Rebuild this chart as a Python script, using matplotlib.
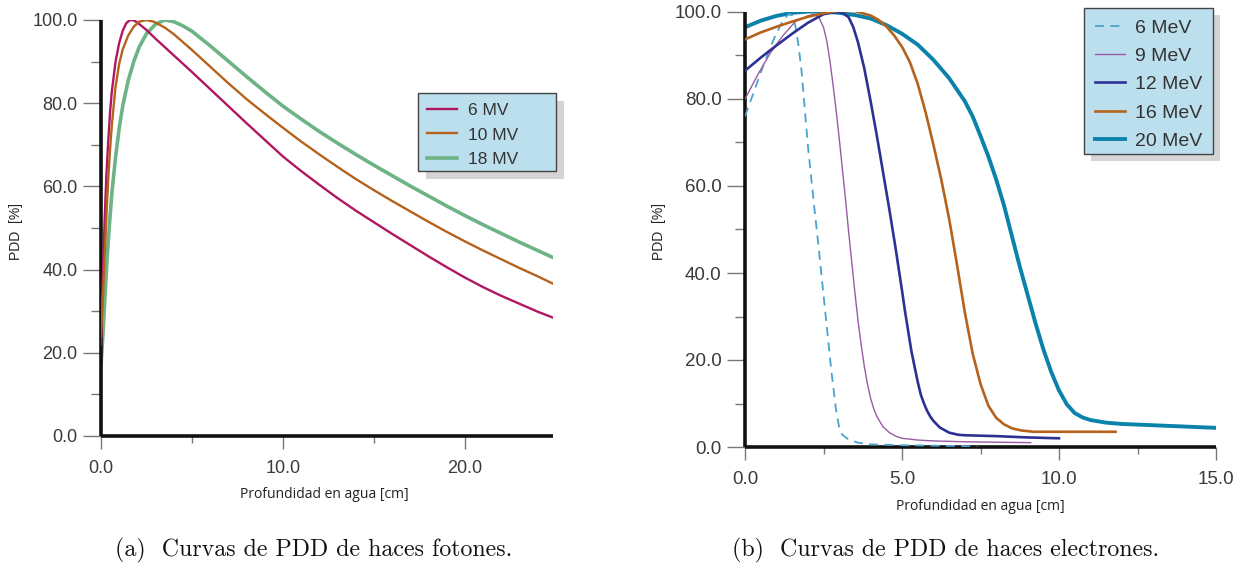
import matplotlib
matplotlib.use("Agg")
import matplotlib.pyplot as plt
from matplotlib.patches import Rectangle
from matplotlib.ticker import MultipleLocator

# ---------------- data: photons (left) ----------------
x_6mv = [0, 0.1, 0.2, 0.3, 0.4, 0.5, 0.6, 0.8, 1.0, 1.2, 1.4, 1.6, 1.8, 2.0, 2.5, 3, 4, 5, 6, 7, 8, 9,
         10, 11, 12, 13, 14, 15, 16, 17, 18, 19, 20, 21, 22, 23, 24, 25]
y_6mv = [22, 38, 52, 63, 71, 78, 83, 90, 94.5, 97.5, 99.3, 100, 99.9, 99.4, 97.6, 95.5, 91.5, 87.5, 83.4, 79.3, 75.2, 71.2,
         67.2, 63.7, 60.4, 57.2, 54.2, 51.4, 48.6, 45.9, 43.2, 40.6, 38.1, 35.8, 33.7, 31.8, 29.9, 28.2]

x_10mv = [0, 0.1, 0.2, 0.3, 0.4, 0.5, 0.6, 0.8, 1.0, 1.2, 1.5, 1.8, 2.1, 2.5, 2.9, 3.5, 4, 5, 6, 7, 8, 9,
          10, 11, 12, 13, 14, 15, 16, 17, 18, 19, 20, 21, 22, 23, 24, 25]
y_10mv = [24, 33, 43, 53, 62, 69, 75, 84, 89.5, 93, 96.3, 98.4, 99.6, 100, 99.6, 98.2, 96.6, 92.8, 88.8, 84.8, 81.0, 77.5,
          74.1, 70.8, 67.7, 64.7, 61.8, 59.1, 56.5, 54.0, 51.5, 49.1, 46.8, 44.6, 42.5, 40.4, 38.4, 36.3]

x_18mv = [0, 0.1, 0.2, 0.3, 0.4, 0.5, 0.6, 0.8, 1.0, 1.2, 1.5, 1.8, 2.1, 2.5, 3, 3.5, 4, 4.5, 5, 6, 7, 8, 9,
          10, 11, 12, 13, 14, 15, 16, 17, 18, 19, 20, 21, 22, 23, 24, 25]
y_18mv = [17, 24, 32, 40, 47, 53, 58.5, 67, 74, 79.5, 85.5, 90, 93.5, 96.7, 99, 100, 99.6, 98.6, 97.3, 93.8, 90.1, 86.4, 82.8,
          79.3, 76.2, 73.2, 70.4, 67.7, 65.1, 62.6, 60.1, 57.7, 55.3, 53.0, 50.8, 48.7, 46.6, 44.6, 42.6]

# ---------------- data: electrons (right) ----------------
x_6mev = [0, 0.3, 0.6, 0.9, 1.2, 1.4, 1.5, 1.6, 1.7, 1.8, 1.9, 2.0, 2.1, 2.2, 2.3, 2.45, 2.6, 2.75, 2.9, 3.0, 3.1,
          3.3, 3.6, 4, 5, 6, 7, 7.4]
y_6mev = [76, 82, 88, 93.5, 98, 99.6, 99.2, 97, 92.5, 86.5, 78, 69.5, 62.5, 55.5, 49, 38.5, 28, 17.5, 8.5, 4.5, 2.8,
          1.7, 1.0, 0.6, 0.4, 0.3, 0.2, 0.0]

x_9mev = [0, 0.4, 0.8, 1.2, 1.6, 2.0, 2.2, 2.35, 2.5, 2.6, 2.7, 2.8, 2.9, 3.0, 3.1, 3.2, 3.3, 3.4, 3.5, 3.6, 3.7,
          3.8, 3.9, 4.0, 4.1, 4.2, 4.4, 4.6, 4.8, 5.0, 5.5, 6, 7, 8, 9.1]
y_9mev = [80, 85.5, 90.5, 94.5, 97.8, 99.1, 99.5, 98.8, 96.5, 93.5, 89, 83.5, 77.5, 71, 64, 57, 49.5, 42.5, 35.5, 29, 23.5,
          18.5, 14.5, 11.2, 8.8, 7, 4.6, 3.3, 2.5, 2.0, 1.6, 1.4, 1.2, 1.1, 1.0]

x_12mev = [0, 0.5, 1.0, 1.5, 2.0, 2.5, 2.9, 3.1, 3.3, 3.45, 3.6, 3.8, 4.0, 4.2, 4.4, 4.6, 4.8, 5.0, 5.1, 5.2, 5.3,
           5.4, 5.5, 5.6, 5.7, 5.8, 5.9, 6.0, 6.2, 6.5, 6.8, 7, 8, 9, 10]
y_12mev = [86.5, 89.5, 92.3, 95, 97.5, 99.5, 100, 99.8, 98.8, 96.5, 93, 87, 79.5, 71.5, 63, 54.5, 45.5, 36, 31, 26.5, 22,
           18.5, 15, 12, 10, 8.3, 7, 6, 4.5, 3.3, 2.8, 2.7, 2.5, 2.2, 2.0]

x_16mev = [0, 0.5, 1.0, 1.5, 2.0, 2.5, 3.0, 3.5, 4.0, 4.25, 4.5, 4.75, 5.0, 5.25, 5.5, 5.75, 6.0, 6.25, 6.5, 6.75,
           7.0, 7.25, 7.5, 7.75, 8.0, 8.25, 8.5, 8.8, 9.2, 10, 11, 11.8]
y_16mev = [93.7, 95.3, 96.6, 97.8, 98.9, 99.7, 100.3, 100.2, 99.2, 98.2, 96.7, 94.6, 92, 88.5, 83.5, 77, 69.5, 61.5,
           52.5, 42, 31, 21.5, 14.5, 9.5, 6.7, 5.2, 4.3, 3.8, 3.5, 3.5, 3.5, 3.5]

x_20mev = [0, 0.5, 1, 1.5, 2, 2.5, 3, 3.5, 4, 4.5, 5, 5.5, 6, 6.5, 7, 7.25, 7.5, 7.75, 8, 8.25, 8.5, 8.75, 9, 9.25,
           9.5, 9.75, 10, 10.25, 10.5, 10.75, 11, 11.5, 12, 13, 14, 15]
y_20mev = [96.5, 98, 99.1, 99.8, 100.1, 100.1, 99.8, 99.3, 98.5, 97, 95, 92.5, 89, 84.8, 79.5, 76, 71.5, 66.8, 61.5, 55.5,
           48.5, 41.5, 35, 28.5, 22.5, 17.3, 13, 9.8, 7.8, 6.8, 6.2, 5.6, 5.3, 5.0, 4.7, 4.4]

labels_left = ["6 MV", "10 MV", "18 MV"]
labels_right = ["6 MeV", "9 MeV", "12 MeV", "16 MeV", "20 MeV"]
yticks = [0, 20, 40, 60, 80, 100]
xticks_left = [0, 10, 20]
xticks_right = [0, 5, 10, 15]

# ---------------- style ----------------
W, H = 1242, 567
fig = plt.figure(figsize=(W / 100, H / 100), dpi=100)
fig.patch.set_facecolor("white")

SANS = ["Liberation Sans", "DejaVu Sans"]
lab_color = "#3a3a3a"


def px_axes(x0, y0, x1, y1):
    return fig.add_axes([x0 / W, 1 - y1 / H, (x1 - x0) / W, (y1 - y0) / H])


def style_axes(ax, xmax, xminor, xtl, tsize):
    ax.set_ylim(0, 100)
    ax.set_xlim(0, xmax)
    for s in ["top", "right"]:
        ax.spines[s].set_visible(False)
    for s in ["left", "bottom"]:
        ax.spines[s].set_linewidth(2.6)
        ax.spines[s].set_color("#111111")
        ax.spines[s].set_capstyle("butt")
    ax.set_yticks(yticks)
    ax.set_yticklabels([f"{v:.1f}" for v in yticks])
    ax.yaxis.set_minor_locator(MultipleLocator(10))
    ax.set_xticks(xtl)
    ax.set_xticklabels([f"{v:.1f}" for v in xtl])
    ax.xaxis.set_minor_locator(MultipleLocator(xminor))
    ax.tick_params(axis="y", which="major", direction="out", length=13, width=1.0,
                   color="#777777", pad=4, labelcolor=lab_color)
    ax.tick_params(axis="y", which="minor", direction="out", length=7, width=1.0, color="#777777")
    ax.tick_params(axis="x", which="major", direction="out", length=9, width=1.0,
                   color="#777777", pad=8, labelcolor=lab_color)
    ax.tick_params(axis="x", which="minor", direction="out", length=5, width=1.0, color="#777777")
    for t in ax.get_xticklabels() + ax.get_yticklabels():
        t.set_fontfamily(SANS)
        t.set_fontsize(tsize)
    ax.set_facecolor("white")


def legend_box(x0, y0, x1, y1, dx=8, dy=8):
    fig.patches.append(Rectangle(((x0 + dx) / W, 1 - (y1 + dy) / H), (x1 - x0) / W, (y1 - y0) / H,
                                 transform=fig.transFigure, facecolor="#d4d4d4",
                                 edgecolor="none", zorder=4))
    fig.patches.append(Rectangle((x0 / W, 1 - y1 / H), (x1 - x0) / W, (y1 - y0) / H,
                                 transform=fig.transFigure, facecolor="#bcdfee",
                                 edgecolor="#444444", linewidth=1.0, zorder=4.2))


# ---------------- left panel ----------------
axL = px_axes(101, 20, 553, 436)
style_axes(axL, 24.85, 5, xticks_left, 13)
axL.plot(x_6mv, y_6mv, color="#b0175f", lw=1.7, label=labels_left[0], zorder=3)
axL.plot(x_10mv, y_10mv, color="#b5621d", lw=1.7, label=labels_left[1], zorder=3)
axL.plot(x_18mv, y_18mv, color="#6db386", lw=2.6, label=labels_left[2], zorder=2)

# ---------------- right panel ----------------
axR = px_axes(745, 12, 1216, 447)
style_axes(axR, 15, 2.5, xticks_right, 13.5)
axR.plot(x_6mev, y_6mev, color="#4aa3cc", lw=1.3, ls=(0, (5, 3.5)), label=labels_right[0], zorder=3)
axR.plot(x_9mev, y_9mev, color="#9a5aa6", lw=1.0, label=labels_right[1], zorder=3)
axR.plot(x_12mev, y_12mev, color="#2e3192", lw=1.9, label=labels_right[2], zorder=3)
axR.plot(x_16mev, y_16mev, color="#b5621d", lw=1.9, label=labels_right[3], zorder=3)
axR.plot(x_20mev, y_20mev, color="#0a82aa", lw=2.8, label=labels_right[4], zorder=2)

# ---------------- legends (manual box + shadow) ----------------
legend_box(418, 93, 556, 171)
legend_box(1084, 8, 1213, 154, dx=7, dy=7)

legL = fig.legend(*axL.get_legend_handles_labels(), loc="upper left",
                  bbox_to_anchor=(427 / W, 1 - 103 / H), bbox_transform=fig.transFigure,
                  frameon=False, prop=dict(family=SANS, size=12.5),
                  handlelength=1.72, handletextpad=0.63, labelspacing=0.53, borderpad=0,
                  borderaxespad=0)
legL.set_zorder(5)
legR = fig.legend(*axR.get_legend_handles_labels(), loc="upper left",
                  bbox_to_anchor=(1095 / W, 1 - 19 / H), bbox_transform=fig.transFigure,
                  frameon=False, prop=dict(family=SANS, size=14),
                  handlelength=1.55, handletextpad=0.52, labelspacing=0.55, borderpad=0,
                  borderaxespad=0)
legR.set_zorder(5)
for leg in (legL, legR):
    for t in leg.get_texts():
        t.set_color("#333333")

# ---------------- axis labels ----------------
ylab = dict(fontsize=10, family=SANS, color="#222222", rotation=90, ha="center", va="center")
fig.text(16 / W, 1 - 231 / H, "PDD  [%]", **ylab)
fig.text(659 / W, 1 - 231 / H, "PDD  [%]", **ylab)
xlab = dict(fontsize=10, family=["Open Sans", "DejaVu Sans"], color="#222222", ha="center", va="center")
fig.text(324 / W, 1 - 494 / H, "Profundidad en agua [cm]", **xlab)
fig.text(980 / W, 1 - 506 / H, "Profundidad en agua [cm]", **xlab)

# ---------------- captions ----------------
cap_font = dict(family=["cmr10", "DejaVu Serif"], size=17.2, color="#111111", va="center", ha="left")
fig.text(115 / W, 1 - 550 / H, "(a)  Curvas de PDD de haces fotones.", **cap_font)
fig.text(732 / W, 1 - 550 / H, "(b)  Curvas de PDD de haces electrones.", **cap_font)

fig.savefig("out.png", dpi=100, facecolor="white")
